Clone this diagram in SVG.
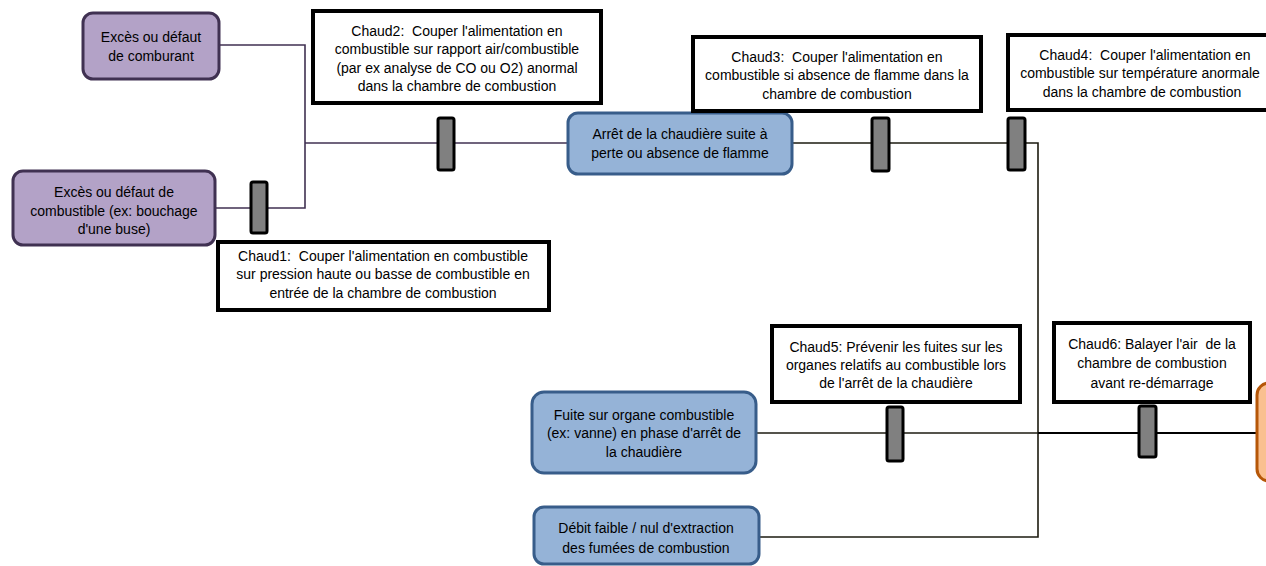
<svg xmlns="http://www.w3.org/2000/svg" width="1266" height="566" viewBox="0 0 1266 566">
<style>
text{font-family:"Liberation Sans",Arial,sans-serif;font-size:14px;fill:#000;text-anchor:middle;white-space:pre}
.purple{fill:#b3a2c7;stroke:#403152;stroke-width:3}
.blue{fill:#95b3d7;stroke:#385d8a;stroke-width:3}
.orange{fill:#fac090;stroke:#b65708;stroke-width:3}
.box{fill:#fff;stroke:#000;stroke-width:4}
.bar{fill:#808080;stroke:#000;stroke-width:3}
.lp{fill:none;stroke:#403152;stroke-width:1.6}
.lk{fill:none;stroke:#1d1b10;stroke-width:1.6}
.lk2{fill:none;stroke:#000;stroke-width:2.2}
</style>
<rect width="1266" height="566" fill="#fff"/>
<g id="connectors">
<polyline class="lp" points="219,45 305,45 305,208 215,208"/>
<line class="lp" x1="305" y1="143" x2="568" y2="143"/>
<polyline class="lk" points="792,143 1038,143 1038,537 759,537"/>
<line class="lk" x1="756" y1="433" x2="1038" y2="433"/>
<line class="lk2" x1="1038" y1="433" x2="1257" y2="433"/>
</g>
<g id="n-comburant"><rect class="purple" x="83" y="13" width="136" height="66" rx="10"/><text x="151" y="42">Excès ou défaut</text><text x="151" y="61">de comburant</text></g>
<g id="n-combustible"><rect class="purple" x="13" y="171" width="202" height="74" rx="10"/><text x="114" y="197">Excès ou défaut de</text><text x="114" y="216">combustible (ex: bouchage</text><text x="114" y="234">d'une buse)</text></g>
<g id="n-arret"><rect class="blue" x="568" y="113" width="224" height="61" rx="10"/><text x="680" y="139">Arrêt de la chaudière suite à</text><text x="680" y="158">perte ou absence de flamme</text></g>
<g id="n-fuite"><rect class="blue" x="532" y="392" width="224" height="81" rx="12"/><text x="644" y="420">Fuite sur organe combustible</text><text x="644" y="438">(ex: vanne) en phase d'arrêt de</text><text x="644" y="457">la chaudière</text></g>
<g id="n-debit"><rect class="blue" x="534" y="507" width="225" height="57" rx="10"/><text x="646" y="533">Débit faible / nul d'extraction</text><text x="646" y="553">des fumées de combustion</text></g>
<g id="n-orange"><rect class="orange" x="1257" y="383" width="40" height="98" rx="12"/></g>
<g id="chaud1"><rect class="box" x="218" y="242" width="331" height="68"/><text x="383" y="261">Chaud1:  Couper l'alimentation en combustible</text><text x="383" y="279">sur pression haute ou basse de combustible en</text><text x="383" y="298">entrée de la chambre de combustion</text><rect class="bar" x="251" y="182" width="16" height="51" rx="2"/></g>
<g id="chaud2"><rect class="box" x="313" y="11" width="288" height="92"/><text x="457" y="36">Chaud2:  Couper l'alimentation en</text><text x="457" y="54">combustible sur rapport air/combustible</text><text x="457" y="73">(par ex analyse de CO ou O2) anormal</text><text x="457" y="91">dans la chambre de combustion</text><rect class="bar" x="438" y="118" width="16" height="52" rx="2"/></g>
<g id="chaud3"><rect class="box" x="693" y="37" width="288" height="74"/><text x="837" y="62">Chaud3:  Couper l'alimentation en</text><text x="837" y="80">combustible si absence de flamme dans la</text><text x="837" y="99">chambre de combustion</text><rect class="bar" x="872" y="118" width="17" height="53" rx="2"/></g>
<g id="chaud4"><rect class="box" x="1008" y="35" width="276" height="75"/><text x="1145" y="60">Chaud4:  Couper l'alimentation en</text><text x="1140" y="78">combustible sur température anormale</text><text x="1142" y="97">dans la chambre de combustion</text><rect class="bar" x="1008" y="118" width="17" height="52" rx="2"/></g>
<g id="chaud5"><rect class="box" x="772" y="326" width="248" height="76"/><text x="896" y="352">Chaud5: Prévenir les fuites sur les</text><text x="896" y="370">organes relatifs au combustible lors</text><text x="896" y="388">de l'arrêt de la chaudière</text><rect class="bar" x="887" y="407" width="16" height="54" rx="2"/></g>
<g id="chaud6"><rect class="box" x="1054" y="323" width="196" height="79"/><text x="1152" y="349">Chaud6: Balayer l'air  de la</text><text x="1152" y="368">chambre de combustion</text><text x="1152" y="388">avant re-démarrage</text><rect class="bar" x="1139" y="406" width="17" height="51" rx="2"/></g>
</svg>
